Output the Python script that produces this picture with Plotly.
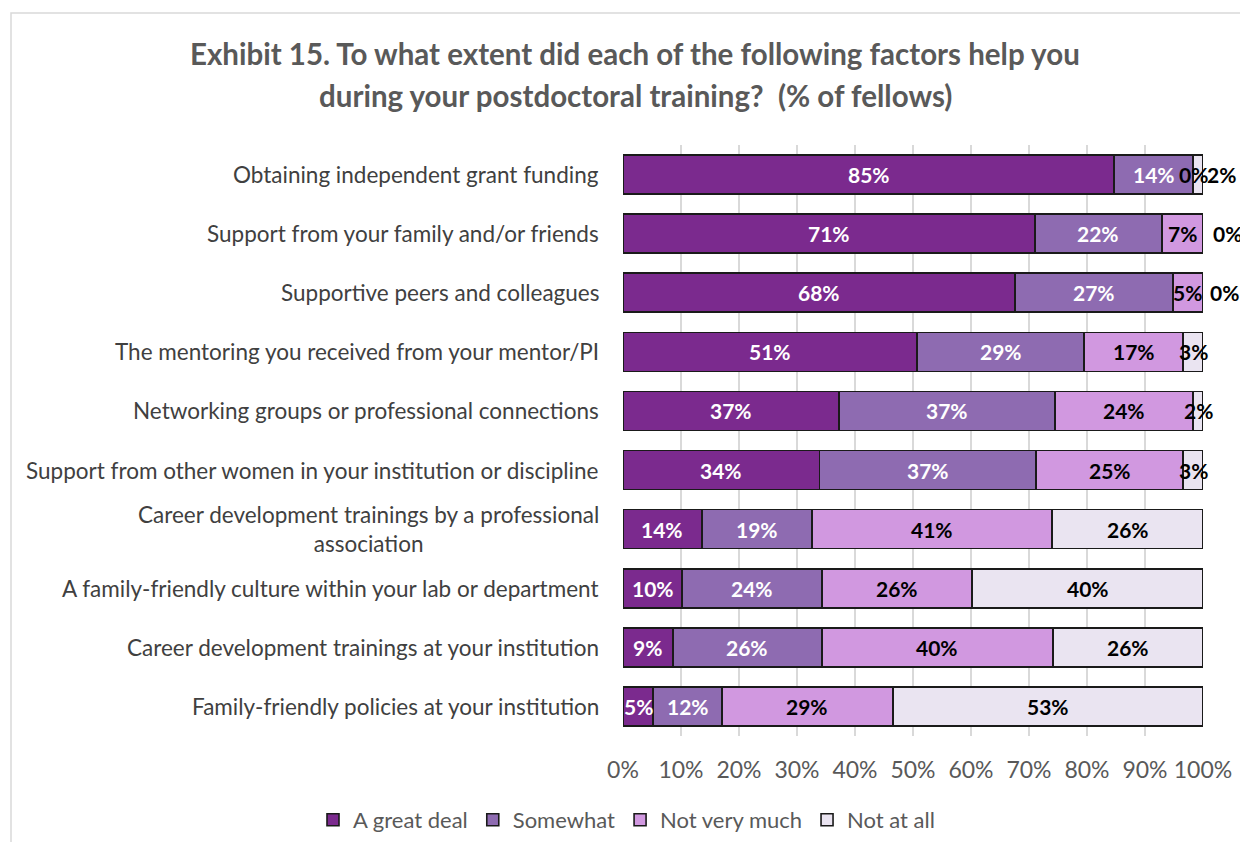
import plotly.graph_objects as go

# ---------------- data ----------------
categories = [
    "Obtaining independent grant funding ",
    "Support from your family and/or friends",
    "Supportive peers and colleagues",
    "The mentoring you received from your mentor/PI",
    "Networking groups or professional connections",
    "Support from other women in your institution or discipline",
    "Career development trainings by a professional<br>association",
    "A family-friendly culture within your lab or department",
    "Career development trainings at your institution",
    "Family-friendly policies at your institution",
]
series_names = ["A great deal", "Somewhat", "Not very much", "Not at all"]
great_deal = [84.7, 71.0, 67.6, 50.7, 37.2, 33.9, 13.6, 10.2, 8.6, 5.2]
somewhat = [13.6, 21.9, 27.2, 28.8, 37.3, 37.3, 19.0, 24.1, 25.7, 11.9]
not_very_much = [0.0, 7.1, 5.2, 17.1, 23.8, 25.4, 41.4, 25.9, 39.8, 29.4]
not_at_all = [1.7, 0.0, 0.0, 3.4, 1.7, 3.4, 26.0, 39.8, 25.9, 53.4]
x_tick_vals = [0, 10, 20, 30, 40, 50, 60, 70, 80, 90, 100]
x_tick_text = ["0%", "10%", "20%", "30%", "40%", "50%", "60%", "70%", "80%", "90%", "100%"]
title_lines = [
    "Exhibit 15. To what extent did each of the following factors help you",
    "during your postdoctoral training?  (% of fellows)",
]

# ---------------- style ----------------
FONT = "Lato"
colors = ["#7B2A8E", "#8E6BB1", "#D198E0", "#EAE4F1"]
label_colors = ["white", "white", "black", "black"]
label_xshift = {(0, 3): 23, (1, 3): 24, (2, 3): 21}

# figure geometry (page has an 8px body margin)
W, H = 1240, 834
PL, PR, PT, PB = 615, 1195, 137, 728  # plot area in figure px
PW, PHt = PR - PL, PB - PT

series = [great_deal, somewhat, not_very_much, not_at_all]

fig = go.Figure()
for name, vals, col in zip(series_names, series, colors):
    fig.add_trace(go.Bar(
        y=categories, x=vals, name=name, orientation="h",
        marker=dict(color=col, line=dict(color="#1A1A1A", width=1.6)),
        textposition="none", hoverinfo="x+name",
    ))

annotations = []
# value labels
for i, cat in enumerate(categories):
    start = 0.0
    for s, vals in enumerate(series):
        v = vals[i]
        mid = start + v / 2.0
        annotations.append(dict(
            x=mid, y=cat, xref="x", yref="y", text=f"{round(v)}%",
            showarrow=False, xanchor="center", yanchor="middle",
            xshift=label_xshift.get((i, s), 0),
            font=dict(family=FONT, size=21, color=label_colors[s], weight="bold"),
        ))
        start += v

# category labels
for cat in categories:
    annotations.append(dict(
        x=0, y=cat, xref="paper", yref="y", text=cat.rstrip(),
        showarrow=False, xanchor="right", yanchor="middle", align="center",
        xshift=-22, font=dict(family=FONT, size=22.5, color="#404040"),
    ))

# title (two lines)
for line, shift in zip(title_lines, [92, 50]):
    annotations.append(dict(
        x=(627 - PL) / PW, y=1.0, xref="paper", yref="paper",
        text=line, showarrow=False, xanchor="center", yanchor="middle",
        yshift=shift,
        font=dict(family=FONT, size=29.5, color="#595959", weight="bold"),
    ))

fig.update_layout(
    barmode="stack",
    bargap=0.34,
    width=W, height=H,
    margin=dict(l=PL, r=W - PR, t=PT, b=H - PB, autoexpand=False),
    paper_bgcolor="white", plot_bgcolor="white",
    font=dict(family=FONT, color="#595959"),
    showlegend=True,
    legend=dict(
        orientation="h", x=(305 - PL) / PW, xanchor="left",
        y=(PB - 812) / PHt, yanchor="middle",
        font=dict(family=FONT, size=22, color="#595959"),
        traceorder="normal", itemwidth=30, bgcolor="rgba(0,0,0,0)",
    ),
    annotations=annotations,
    shapes=[dict(
        type="rect", xref="paper", yref="paper",
        x0=(3 - PL) / PW, x1=(1260 - PL) / PW,
        y0=(PB - 870) / PHt, y1=(PB - 5) / PHt,
        line=dict(color="#D9D9D9", width=1.5), fillcolor="rgba(0,0,0,0)", layer="below",
    )],
)
fig.update_xaxes(
    range=[0, 100], tickvals=x_tick_vals, ticktext=x_tick_text,
    showgrid=True, gridcolor="#D9D9D9", gridwidth=1.5, zeroline=False,
    showline=False, ticks="", ticklabelstandoff=18,
    tickfont=dict(family=FONT, size=23, color="#595959"),
)
fig.update_yaxes(
    autorange="reversed", showticklabels=False, showgrid=False,
    zeroline=False, showline=False, ticks="",
)

fig.write_html("out.html")
